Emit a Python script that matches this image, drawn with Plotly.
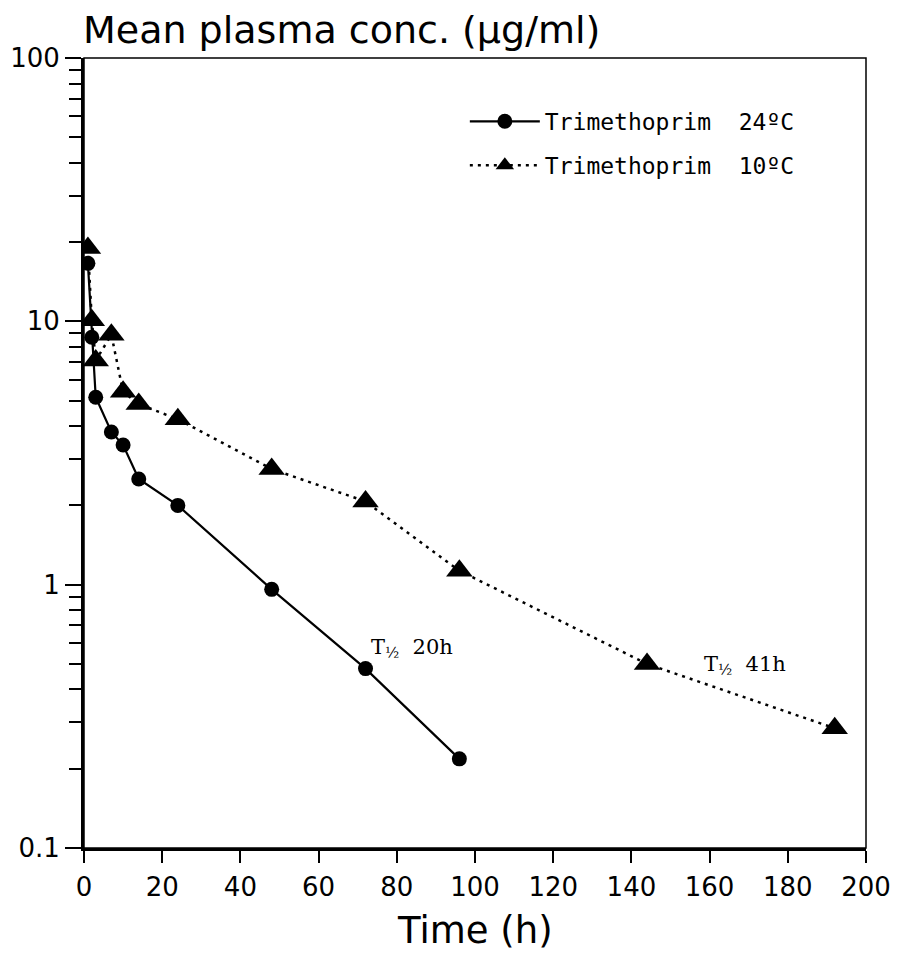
import plotly.graph_objects as go

# Data
time_24 = [1, 2, 3, 7, 10, 14, 24, 48, 72, 96]
conc_24 = [16.6, 8.7, 5.15, 3.8, 3.39, 2.52, 2.0, 0.96, 0.48, 0.218]

time_10 = [1, 2, 3, 7, 10, 14, 24, 48, 72, 96, 144, 192]
conc_10 = [19.0, 10.1, 7.1, 8.9, 5.4, 4.85, 4.25, 2.75, 2.07, 1.13, 0.50, 0.285]

name_24 = "Trimethoprim  24ºC"
name_10 = "Trimethoprim  10ºC"

x_ticks = [0, 20, 40, 60, 80, 100, 120, 140, 160, 180, 200]
y_ticks = [0.1, 1, 10, 100]
y_tick_text = ["0.1", "1", "10", "100"]
y_minor = [m * d for d in (0.1, 1, 10) for m in range(2, 10)]

FONT = "DejaVu Sans"
W, H = 890, 951  # page body has an 8px margin

fig = go.Figure()
fig.add_trace(go.Scatter(
    x=time_24, y=conc_24, name=name_24, mode="lines+markers",
    line=dict(color="black", width=2.2),
    marker=dict(symbol="circle", size=15, color="black"),
    legendgroup="a",
))
fig.add_trace(go.Scatter(
    x=time_10, y=conc_10, name=name_10, mode="lines+markers",
    line=dict(color="black", width=2.5, dash="3px,5px"),
    marker=dict(symbol="triangle-up", size=23, color="black"),
    legendgroup="b",
))

fig.update_layout(
    width=W, height=H,
    margin=dict(l=76, r=32, t=50, b=111, autoexpand=False),
    paper_bgcolor="white", plot_bgcolor="white",
    font=dict(family=FONT, color="black"),
    title=dict(text="Mean plasma conc. (µg/ml)", x=75/W, xanchor="left",
               xref="container", yref="container", y=1 - 22/H, yanchor="middle",
               font=dict(size=38, family=FONT, color="black")),
    showlegend=True,
    legend=dict(x=0.487, y=0.947, xanchor="left", yanchor="top",
                font=dict(size=23, family="DejaVu Sans Mono", color="black"),
                traceorder="grouped", tracegroupgap=11,
                bgcolor="rgba(0,0,0,0)", itemwidth=70),
    xaxis=dict(range=[0, 200], tickvals=x_ticks, ticks="outside", ticklen=12,
               tickwidth=1.5, tickcolor="black", showline=True, linecolor="black",
               linewidth=3, showgrid=False, zeroline=False, automargin=False,
               tickfont=dict(size=26, family=FONT), ticklabelstandoff=2),
    yaxis=dict(type="log", range=[-1, 2], tickvals=y_ticks, ticktext=y_tick_text,
               ticks="outside", ticklen=16, tickwidth=2, tickcolor="black",
               showline=True, linecolor="black", linewidth=3, showgrid=False,
               zeroline=False, automargin=False, tickfont=dict(size=26, family=FONT),
               minor=dict(tickmode="array", tickvals=y_minor, ticks="outside",
                          ticklen=12, tickwidth=1.5, tickcolor="black", showgrid=False)),
    shapes=[dict(type="rect", xref="paper", yref="paper", x0=0, y0=0, x1=1, y1=1,
                 line=dict(color="black", width=1.5), layer="above")],
    annotations=[
        dict(text="Time (h)", xref="paper", yref="paper", x=0.5, y=-0.104,
             showarrow=False, xanchor="center", yanchor="middle",
             font=dict(size=37, family=FONT, color="black")),
        dict(text="T<sub>½</sub>  20h", x=84, y=-0.24, xref="x", yref="y",
             showarrow=False, xanchor="center", yanchor="middle",
             font=dict(size=21, family="DejaVu Serif", color="black")),
        dict(text="T<sub>½</sub>  41h", x=169, y=-0.305, xref="x", yref="y",
             showarrow=False, xanchor="center", yanchor="middle",
             font=dict(size=21, family="DejaVu Serif", color="black")),
    ],
)

fig.write_html("out.html")
